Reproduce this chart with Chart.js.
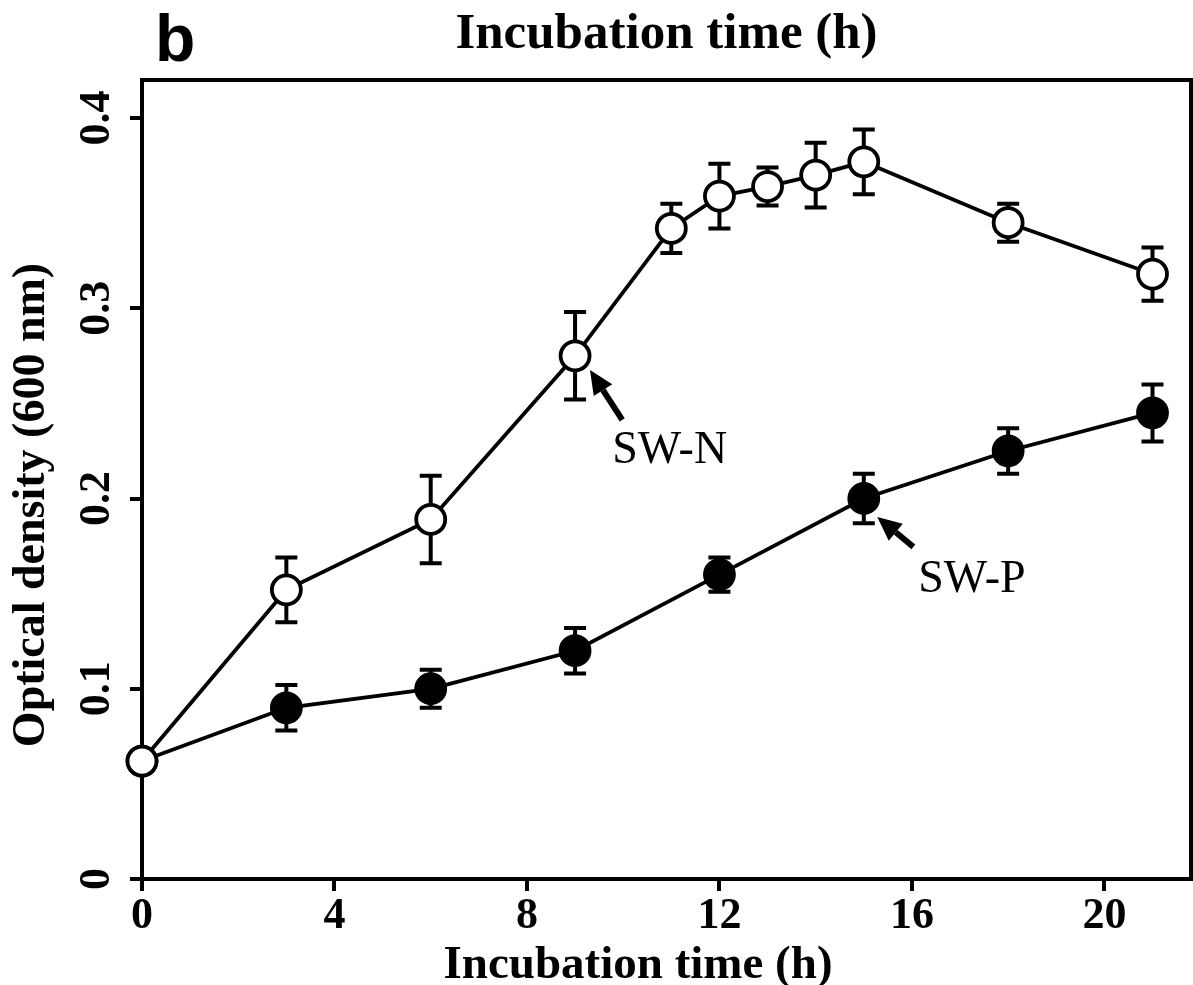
<!DOCTYPE html>
<html>
<head>
<meta charset="utf-8">
<title>Optical density vs incubation time</title>
<script src="https://cdn.jsdelivr.net/npm/chart.js@4.4.1/dist/chart.umd.min.js"></script>
<style>
  html, body { margin: 0; padding: 0; background: #fff; }
</style>
</head>
<body>
<canvas id="myChart" width="1193" height="985"></canvas>
<script>
// SW-N -- open circles
const hoursN = [0, 3, 6, 9, 11, 12, 13, 14, 15, 18, 21];
const odN = [0.062, 0.152, 0.189, 0.275, 0.342, 0.359, 0.364, 0.370, 0.377, 0.345, 0.318];
const errN = [0, 0.017, 0.023, 0.023, 0.013, 0.017, 0.010, 0.017, 0.017, 0.010, 0.014];

// SW-P -- filled circles
const hoursP = [0, 3, 6, 9, 12, 15, 18, 21];
const odP = [0.062, 0.090, 0.100, 0.120, 0.160, 0.200, 0.225, 0.245];
const errP = [0, 0.012, 0.010, 0.012, 0.009, 0.013, 0.012, 0.015];

const xTicks = [0, 4, 8, 12, 16, 20];
const yTicks = [0, 0.1, 0.2, 0.3, 0.4];

const serif = '"Liberation Serif", "Times New Roman", serif';

// error bars + the box round the plot, drawn under the points
const frame = {
    id: 'frame',
    beforeDatasetsDraw(chart) {
        const { ctx, chartArea: a, scales: { y } } = chart;
        ctx.save();
        ctx.strokeStyle = '#000';
        ctx.lineWidth = 4;
        chart.data.datasets.forEach((ds, i) => {
            const meta = chart.getDatasetMeta(i);
            ds.data.forEach((p, j) => {
                const e = ds.errors[j];
                if (!e) return;
                const px = meta.data[j].x;
                const top = y.getPixelForValue(p.y + e);
                const bot = y.getPixelForValue(p.y - e);
                ctx.beginPath();
                ctx.moveTo(px, top); ctx.lineTo(px, bot);
                ctx.moveTo(px - 11, top); ctx.lineTo(px + 11, top);
                ctx.moveTo(px - 11, bot); ctx.lineTo(px + 11, bot);
                ctx.stroke();
            });
        });
        ctx.strokeRect(a.left, a.top, a.right - a.left, a.bottom - a.top);
        ctx.restore();
    }
};

function arrow(ctx, x1, y1, x2, y2) {
    // x1,y1 tail -- x2,y2 tip
    const ang = Math.atan2(y2 - y1, x2 - x1);
    const hl = 24, hw = 11;
    const bx = x2 - hl * Math.cos(ang), by = y2 - hl * Math.sin(ang);
    ctx.beginPath();
    ctx.moveTo(x1, y1);
    ctx.lineTo(bx, by);
    ctx.lineWidth = 6;
    ctx.stroke();
    ctx.beginPath();
    ctx.moveTo(x2, y2);
    ctx.lineTo(bx + hw * Math.sin(ang), by - hw * Math.cos(ang));
    ctx.lineTo(bx - hw * Math.sin(ang), by + hw * Math.cos(ang));
    ctx.closePath();
    ctx.fill();
}

// rotated y tick labels, axis titles, panel letter and the arrows
const labels = {
    id: 'labels',
    afterDraw(chart) {
        const { ctx, chartArea: a, scales: { x, y } } = chart;
        ctx.save();
        ctx.fillStyle = '#000';
        ctx.strokeStyle = '#000';

        ctx.font = 'bold 44px ' + serif;
        ctx.textAlign = 'center';
        ctx.textBaseline = 'middle';
        y.ticks.forEach(t => {
            ctx.save();
            ctx.translate(a.left - 44, y.getPixelForValue(t.value));
            ctx.rotate(-Math.PI / 2);
            ctx.fillText(String(t.value), 0, 0);
            ctx.restore();
        });

        ctx.font = 'bold 47px ' + serif;
        ctx.textBaseline = 'alphabetic';
        ctx.fillText('Incubation time (h)', 638, 978);
        ctx.font = 'bold 46px ' + serif;
        ctx.save();
        ctx.translate(44, 505);
        ctx.rotate(-Math.PI / 2);
        ctx.fillText('Optical density (600 nm)', 0, 0);
        ctx.restore();

        ctx.font = 'bold 66px "Liberation Sans", Arial, sans-serif';
        ctx.textAlign = 'left';
        ctx.fillText('b', 155, 61);

        // arrows, placed in data units
        arrow(ctx, x.getPixelForValue(9.98), y.getPixelForValue(0.2413),
                   x.getPixelForValue(9.31), y.getPixelForValue(0.2676));
        arrow(ctx, x.getPixelForValue(16.03), y.getPixelForValue(0.1746),
                   x.getPixelForValue(15.28), y.getPixelForValue(0.1903));
        ctx.font = '46px ' + serif;
        ctx.fillText('SW-N', x.getPixelForValue(9.77), y.getPixelForValue(0.2187));
        ctx.fillText('SW-P', x.getPixelForValue(16.13), y.getPixelForValue(0.1509));
        ctx.restore();
    }
};

const myChart = document.getElementById('myChart');

let lineChart = new Chart(myChart, {
    type: 'line',
    data: {
        datasets: [
            {
                label: 'SW-N',
                data: hoursN.map((h, i) => ({ x: h, y: odN[i] })),
                errors: errN,
                borderColor: '#000',
                borderWidth: 3.8,
                pointRadius: 14.5,
                pointBorderWidth: 3.8,
                pointBackgroundColor: '#fff',
                pointBorderColor: '#000',
                clip: false
            },
            {
                label: 'SW-P',
                data: hoursP.map((h, i) => ({ x: h, y: odP[i] })),
                errors: errP,
                borderColor: '#000',
                borderWidth: 3.8,
                pointRadius: 14.5,
                pointBorderWidth: 3.8,
                pointBackgroundColor: '#000',
                pointBorderColor: '#000',
                clip: false
            }
        ]
    },
    options: {
        responsive: false,
        animation: false,
        events: [],
        layout: { autoPadding: false, padding: { left: 0, right: 2, top: 0, bottom: 0 } },
        plugins: {
            legend: { display: false },
            tooltip: { enabled: false },
            title: {
                display: true,
                text: 'Incubation time (h)',
                fullSize: false,
                color: '#000',
                font: { family: serif, size: 51, weight: 'bold', lineHeight: 1 },
                padding: { top: 9, bottom: 20 }
            }
        },
        scales: {
            x: {
                type: 'linear',
                min: 0,
                max: 21.8,
                afterBuildTicks: s => { s.ticks = xTicks.map(v => ({ value: v })); },
                afterFit: s => { s.height = 106; },
                ticks: {
                    color: '#000',
                    font: { family: serif, size: 44, weight: 'bold', lineHeight: 1 },
                    padding: 4,
                    maxRotation: 0,
                    autoSkip: false
                },
                grid: { drawOnChartArea: false, color: '#000', lineWidth: 4, tickLength: 12 },
                border: { display: false }
            },
            y: {
                min: 0,
                max: 0.42,
                afterBuildTicks: s => { s.ticks = yTicks.map(v => ({ value: v })); },
                afterFit: s => { s.width = 142; },
                ticks: { display: false },
                grid: { drawOnChartArea: false, color: '#000', lineWidth: 4, tickLength: 12 },
                border: { display: false }
            }
        }
    },
    plugins: [frame, labels]
});
</script>
</body>
</html>
